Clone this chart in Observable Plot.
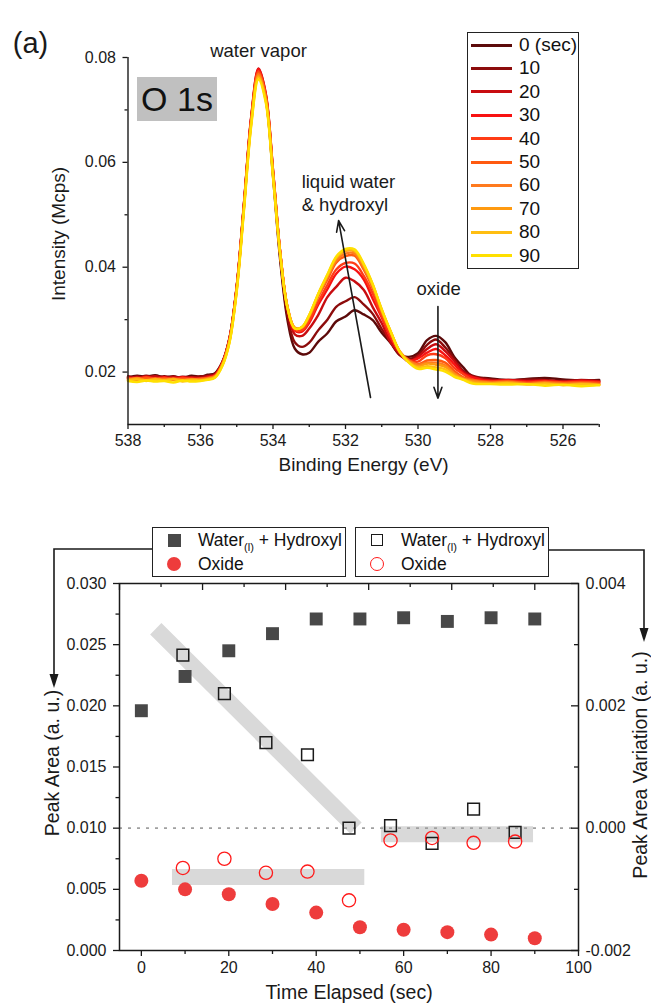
<!DOCTYPE html>
<html><head><meta charset="utf-8">
<script src="https://cdn.jsdelivr.net/npm/d3@7"></script>
<script src="https://cdn.jsdelivr.net/npm/@observablehq/plot@0.6"></script>
<style>
body{margin:0;background:#fff;font-family:"Liberation Sans",Arial,sans-serif;color:#111}
#wrap{position:relative;width:651px;height:1008px;overflow:hidden;background:#fff}
#top,#bot{position:absolute;left:0}
#top{top:0}
#bot{top:490px}
.box{position:absolute;border:1.3px solid #222;background:#fff;box-sizing:border-box}
.row{position:absolute;white-space:nowrap}
#o1s{position:absolute;left:137px;top:77px;width:80px;height:44px;background:#c0c0c0;font-size:34px;line-height:44px;text-align:center;color:#111}
sub{font-size:11px;vertical-align:-5px}
#ov{position:absolute;left:0;top:0;pointer-events:none}
</style></head><body>
<div id="wrap">
<div id="top"></div>
<div id="bot"></div>
<div id="o1s">O 1s</div>
<div id="leg1" class="box" style="left:467px;top:32px;width:112px;height:237px"></div>
<div id="leg2" class="box" style="left:152px;top:527px;width:194px;height:50px"></div>
<div id="leg3" class="box" style="left:355px;top:527px;width:194px;height:50px"></div>
<svg id="ov" width="651" height="1008"></svg>
</div>
<script>
// ---------- Top panel data (O 1s spectra) ----------
const energy = [538.0,537.75,537.5,537.25,537.0,536.75,536.5,536.25,536.0,
  535.8,535.6,535.4,535.2,535.0,534.8,534.6,534.4,534.2,534.0,533.8,533.6,533.4,533.2,533.0,
  532.75,532.5,532.25,532.0,531.75,531.5,531.25,531.0,530.75,530.5,530.25,530.0,529.75,529.5,529.25,529.0,528.75,528.5,
  528.0,527.5,527.0,526.5,526.0,525.5,525.0];
const times = [0,10,20,30,40,50,60,70,80,90];
const s0 = [0.0190,0.0193,0.0191,0.0194,0.0190,0.0192,0.0189,0.0193,0.0191,0.0195,0.0198,0.0219,0.0265,0.0363,0.0518,0.0681,0.0769,0.0721,0.0573,0.0412,0.0299,0.0245,0.0234,0.0237,0.0258,0.0274,0.0297,0.0306,0.0318,0.0310,0.0299,0.0275,0.0255,0.0233,0.0229,0.0236,0.0261,0.0269,0.0257,0.0229,0.0209,0.0192,0.0188,0.0185,0.0187,0.0189,0.0186,0.0184,0.0185];
const s1 = [0.0192,0.0189,0.0193,0.0190,0.0192,0.0189,0.0191,0.0190,0.0192,0.0193,0.0197,0.0218,0.0265,0.0364,0.0522,0.0685,0.0773,0.0726,0.0578,0.0418,0.0307,0.0257,0.0248,0.0256,0.0280,0.0300,0.0325,0.0335,0.0343,0.0329,0.0311,0.0282,0.0257,0.0232,0.0225,0.0232,0.0252,0.0262,0.0247,0.0225,0.0202,0.0193,0.0186,0.0184,0.0186,0.0185,0.0183,0.0185,0.0183];
const s2 = [0.0188,0.0191,0.0189,0.0192,0.0188,0.0191,0.0188,0.0190,0.0189,0.0192,0.0195,0.0218,0.0264,0.0365,0.0523,0.0688,0.0779,0.0732,0.0586,0.0427,0.0319,0.0272,0.0269,0.0283,0.0309,0.0343,0.0363,0.0380,0.0373,0.0357,0.0324,0.0293,0.0256,0.0235,0.0220,0.0229,0.0244,0.0253,0.0240,0.0221,0.0200,0.0191,0.0184,0.0185,0.0183,0.0184,0.0182,0.0184,0.0182];
const s3 = [0.0190,0.0187,0.0191,0.0188,0.0190,0.0187,0.0190,0.0188,0.0187,0.0190,0.0194,0.0217,0.0263,0.0363,0.0521,0.0686,0.0778,0.0730,0.0585,0.0428,0.0322,0.0279,0.0277,0.0294,0.0329,0.0358,0.0388,0.0401,0.0396,0.0377,0.0340,0.0304,0.0264,0.0238,0.0222,0.0226,0.0237,0.0244,0.0232,0.0215,0.0197,0.0190,0.0183,0.0184,0.0182,0.0183,0.0181,0.0183,0.0181];
const s4 = [0.0189,0.0186,0.0190,0.0187,0.0189,0.0186,0.0189,0.0187,0.0188,0.0189,0.0193,0.0216,0.0263,0.0362,0.0520,0.0684,0.0774,0.0728,0.0584,0.0428,0.0323,0.0281,0.0280,0.0298,0.0334,0.0366,0.0396,0.0408,0.0407,0.0384,0.0350,0.0307,0.0269,0.0237,0.0222,0.0220,0.0232,0.0234,0.0227,0.0208,0.0196,0.0186,0.0182,0.0183,0.0180,0.0182,0.0180,0.0181,0.0180];
const s5 = [0.0188,0.0185,0.0189,0.0186,0.0188,0.0185,0.0187,0.0186,0.0187,0.0189,0.0192,0.0215,0.0261,0.0361,0.0518,0.0681,0.0771,0.0726,0.0582,0.0428,0.0325,0.0284,0.0284,0.0305,0.0344,0.0376,0.0409,0.0421,0.0422,0.0396,0.0360,0.0314,0.0274,0.0239,0.0223,0.0215,0.0222,0.0223,0.0218,0.0202,0.0190,0.0185,0.0181,0.0182,0.0179,0.0181,0.0179,0.0180,0.0178];
const s6 = [0.0186,0.0189,0.0185,0.0188,0.0186,0.0188,0.0185,0.0187,0.0186,0.0188,0.0192,0.0214,0.0260,0.0359,0.0516,0.0678,0.0768,0.0723,0.0580,0.0426,0.0324,0.0284,0.0285,0.0306,0.0346,0.0380,0.0413,0.0426,0.0426,0.0399,0.0363,0.0316,0.0276,0.0239,0.0221,0.0214,0.0218,0.0218,0.0213,0.0198,0.0188,0.0184,0.0180,0.0181,0.0178,0.0180,0.0178,0.0179,0.0177];
const s7 = [0.0185,0.0188,0.0184,0.0187,0.0185,0.0187,0.0184,0.0186,0.0185,0.0187,0.0191,0.0213,0.0259,0.0358,0.0514,0.0676,0.0765,0.0720,0.0578,0.0426,0.0324,0.0285,0.0286,0.0308,0.0349,0.0384,0.0417,0.0431,0.0430,0.0404,0.0367,0.0318,0.0277,0.0238,0.0220,0.0211,0.0216,0.0214,0.0210,0.0196,0.0187,0.0182,0.0179,0.0180,0.0177,0.0179,0.0176,0.0178,0.0176];
const s8 = [0.0184,0.0186,0.0183,0.0186,0.0184,0.0186,0.0182,0.0185,0.0184,0.0186,0.0190,0.0212,0.0257,0.0356,0.0512,0.0673,0.0762,0.0717,0.0575,0.0424,0.0323,0.0283,0.0286,0.0309,0.0349,0.0385,0.0419,0.0433,0.0432,0.0405,0.0366,0.0320,0.0276,0.0239,0.0218,0.0209,0.0211,0.0209,0.0205,0.0193,0.0186,0.0180,0.0178,0.0179,0.0176,0.0178,0.0175,0.0177,0.0175];
const s9 = [0.0183,0.0181,0.0184,0.0182,0.0183,0.0180,0.0184,0.0182,0.0183,0.0185,0.0189,0.0211,0.0256,0.0354,0.0509,0.0670,0.0758,0.0714,0.0572,0.0423,0.0322,0.0283,0.0286,0.0309,0.0350,0.0386,0.0421,0.0435,0.0434,0.0407,0.0368,0.0319,0.0277,0.0238,0.0218,0.0206,0.0208,0.0205,0.0201,0.0191,0.0185,0.0178,0.0177,0.0176,0.0177,0.0174,0.0176,0.0173,0.0175];
const lineColors = ["#5c0a0a","#8c0c0c","#c80c10","#f81212","#ff3c16","#ff5a10","#ff7a1e","#ff9a10","#ffbe12","#ffe000"];
const legendLabels = ["0 (sec)","10","20","30","40","50","60","70","80","90"];
const xMajorTop = [538,536,534,532,530,528,526];
const xMinorTop = [537,535,533,531,529,527,525];
const yMajorTop = [0.02,0.04,0.06,0.08];
const yMinorTop = [0.03,0.05,0.07];
const centeredNotes = [
  {x:534.4, y:0.0813, text:"water vapor"},
  {x:529.43, y:0.03575, text:"oxide"}
];
const leftNotes = [
  {x:533.21, y:0.0562, text:"liquid water"},
  {x:533.21, y:0.0518, text:"& hydroxyl"}
];
const topArrows = [
  {x1:531.31, y1:0.01515, x2:532.19, y2:0.0489},
  {x1:529.45, y1:0.0325, x2:529.45, y2:0.0150}
];

// ---------- Bottom panel data ----------
const tSec = [0,10,20,30,40,50,60,70,80,90];
const waterArea = [0.0196,0.0224,0.0245,0.0259,0.0271,0.0271,0.0272,0.0269,0.0272,0.0271];
const oxideArea = [0.0057,0.0050,0.0046,0.0038,0.0031,0.0019,0.0017,0.0015,0.0013,0.0010];
const tMid = [9.5,19,28.5,38,47.5,57,66.5,76,85.5];
const waterVar = [0.00283,0.0022,0.0014,0.0012,0.0000,0.00004,-0.00025,0.00031,-0.00007];
const oxideVar = [-0.00065,-0.0005,-0.00073,-0.00071,-0.00118,-0.0002,-0.00016,-0.00024,-0.00022];
const bandX = [[3.3,49.1],[7,51],[54.8,89.6]];
const bandV = [[0.00326,0.0],[-0.0008,-0.0008],[-0.0001,-0.0001]];
const xMajorBot = [0,20,40,60,80,100];
const xMinorBot = [10,30,50,70,90];
const yMajorBot = [0,0.005,0.010,0.015,0.020,0.025,0.030];
const yMinorBot = [0.0025,0.0075,0.0125,0.0175,0.0225,0.0275];
const rightTicks = [-0.002,0,0.002,0.004];
const rightMinor = [-0.001,0.001,0.003];
const topMajorBot = [-5,14,33,52,71,90];
const topMinorBot = [4.5,23.5,42.5,61.5,80.5];

const FONT = '"Liberation Sans", Arial, sans-serif';
const INK = "#1a1a1a";

// ---------- Top chart ----------
const spectra = [s0,s1,s2,s3,s4,s5,s6,s7,s8,s9];
const specData = times.flatMap((t,i)=>energy.map((e,j)=>({t, e, v: spectra[i][j]})));

const topChart = Plot.plot({
  width:651, height:490,
  marginLeft:127.5, marginRight:52.25, marginTop:57, marginBottom:66,
  style:{fontFamily:FONT, fontSize:"16px", color:INK, background:"transparent", overflow:"visible"},
  x:{domain:[538,525]},
  y:{domain:[0.01,0.08]},
  color:{type:"ordinal", domain:times, range:lineColors},
  marks:[
    Plot.line(specData,{x:"e", y:"v", z:"t", stroke:"t", strokeWidth:2.4, curve:"catmull-rom"}),
    Plot.ruleX([538],{stroke:INK, strokeWidth:1.4}),
    Plot.ruleY([0.01],{stroke:INK, strokeWidth:1.4}),
    Plot.axisX({ticks:xMajorTop, tickFormat:d=>String(d), tickSize:5, tickPadding:5, label:null, strokeWidth:1.3}),
    Plot.axisX({ticks:xMinorTop, tickFormat:()=>"", tickSize:3, label:null, strokeWidth:1.3}),
    Plot.axisY({ticks:yMajorTop, tickFormat:d=>d.toFixed(2), tickSize:5, tickPadding:7, label:null, strokeWidth:1.3}),
    Plot.axisY({ticks:yMinorTop, tickFormat:()=>"", tickSize:3, label:null, strokeWidth:1.3}),
    Plot.text(centeredNotes,{x:"x", y:"y", text:"text", textAnchor:"middle", fontSize:18.5, fill:INK}),
    Plot.text(leftNotes,{x:"x", y:"y", text:"text", textAnchor:"start", fontSize:18.5, fill:INK}),
    Plot.arrow(topArrows,{x1:"x1", y1:"y1", x2:"x2", y2:"y2", stroke:INK, strokeWidth:1.6, headLength:11, headAngle:40}),
    Plot.text(["Intensity (Mcps)"],{text:d=>d, frameAnchor:"left", textAnchor:"middle", dx:-69, dy:-7, rotate:-90, fontSize:19, fill:INK}),
    Plot.text(["Binding Energy (eV)"],{text:d=>d, frameAnchor:"bottom", textAnchor:"middle", dy:46, fontSize:19, fill:INK}),
    Plot.text(["(a)"],{text:d=>d, frameAnchor:"top-left", textAnchor:"middle", dx:-97.5, dy:-25, fontSize:29, fill:INK})
  ]
});
document.getElementById("top").appendChild(topChart);

// ---------- Bottom chart ----------
const toLeft = v => 0.010 + 5*v;
const areaRows = tSec.map((t,i)=>({t, w:waterArea[i], o:oxideArea[i]}));
const varRows = tMid.map((t,i)=>({t, w:toLeft(waterVar[i]), o:toLeft(oxideVar[i])}));
const bandRows = bandX.flatMap((xs,k)=>xs.map((x,j)=>({k, x, y:toLeft(bandV[k][j])})));
const FW = 651-119-73, FH = 518-93-58;

const botChart = Plot.plot({
  width:651, height:518,
  marginLeft:119, marginRight:73, marginTop:93, marginBottom:58,
  style:{fontFamily:FONT, fontSize:"16px", color:INK, background:"transparent", overflow:"visible"},
  x:{domain:[-5,100]},
  y:{domain:[0,0.030]},
  marks:[
    Plot.line(bandRows,{x:"x", y:"y", z:"k", stroke:"#d9d9d9", strokeWidth:16, strokeLinecap:"butt"}),
    Plot.ruleY([toLeft(0)],{stroke:"#a0a0a0", strokeWidth:1.6, strokeDasharray:"3,6"}),
    Plot.dot(areaRows,{x:"t", y:"w", symbol:"square", r:7.3, fill:"#484848"}),
    Plot.dot(areaRows,{x:"t", y:"o", symbol:"circle", r:7, fill:"#ee3c3c"}),
    Plot.dot(varRows,{x:"t", y:"w", symbol:"square", r:6.6, fill:"none", stroke:"#1a1a1a", strokeWidth:1.5}),
    Plot.dot(varRows,{x:"t", y:"o", symbol:"circle", r:6.6, fill:"none", stroke:"#ff1a1a", strokeWidth:1.3}),
    Plot.frame({stroke:INK, strokeWidth:1.5}),
    Plot.axisX({ticks:xMajorBot, tickFormat:d=>String(d), tickSize:6, tickPadding:5, label:null, strokeWidth:1.3}),
    Plot.axisX({ticks:xMinorBot, tickFormat:()=>"", tickSize:4, label:null, strokeWidth:1.3}),
    Plot.axisY({ticks:yMajorBot, tickFormat:d=>d.toFixed(3), tickSize:6, tickPadding:7, label:null, strokeWidth:1.3}),
    Plot.axisY({ticks:yMinorBot, tickFormat:()=>"", tickSize:3.5, label:null, strokeWidth:1.3}),
    Plot.axisY({anchor:"right", ticks:rightTicks.map(toLeft), tickFormat:d=>((d-0.010)/5).toFixed(3), tickSize:0, tickPadding:7, label:null}),
    Plot.tickY(rightTicks.map(toLeft),{y:d=>d, insetLeft:FW-7, stroke:INK, strokeWidth:1.3}),
    Plot.tickY(rightMinor.map(toLeft),{y:d=>d, insetLeft:FW-4, stroke:INK, strokeWidth:1.3}),
    Plot.tickX(topMajorBot,{x:d=>d, insetBottom:FH-7, stroke:INK, strokeWidth:1.3}),
    Plot.tickX(topMinorBot,{x:d=>d, insetBottom:FH-4, stroke:INK, strokeWidth:1.3}),
    Plot.text(["Peak Area (a. u.)"],{text:d=>d, frameAnchor:"left", textAnchor:"middle", dx:-67, dy:-4, rotate:-90, fontSize:19.5, fill:INK}),
    Plot.text(["Peak Area Variation (a. u.)"],{text:d=>d, frameAnchor:"right", textAnchor:"middle", dx:62, dy:-2, rotate:-90, fontSize:19.5, fill:INK}),
    Plot.text(["Time Elapsed (sec)"],{text:d=>d, frameAnchor:"bottom", textAnchor:"middle", dy:48, fontSize:19.5, fill:INK})
  ]
});
document.getElementById("bot").appendChild(botChart);

// ---------- Legends ----------
const leg1 = document.getElementById("leg1");
legendLabels.forEach((lab,i)=>{
  const cy = 12 + 23.4*i;
  const sw = document.createElement("div");
  sw.style.cssText = `position:absolute;left:3px;top:${cy-1.5}px;width:41px;height:3.2px;background:${lineColors[i]}`;
  leg1.appendChild(sw);
  const tx = document.createElement("div");
  tx.className = "row";
  tx.style.cssText += `left:51px;top:${cy-11}px;font-size:19px;line-height:22px`;
  tx.textContent = lab;
  leg1.appendChild(tx);
});
function fillLeg(el, sq, ci){
  el.innerHTML = `
   <div style="position:absolute;left:${21-6.5}px;top:${12-6.5}px;width:13px;height:13px;${sq}"></div>
   <div class="row" style="left:45px;top:1px;font-size:17.5px;line-height:22px">Water<sub>(l)</sub> + Hydroxyl</div>
   <div style="position:absolute;left:${21-7}px;top:${36-7}px;width:14px;height:14px;border-radius:50%;box-sizing:border-box;${ci}"></div>
   <div class="row" style="left:45px;top:25px;font-size:17.5px;line-height:22px">Oxide</div>`;
}
fillLeg(document.getElementById("leg2"), "background:#484848", "background:#ee3c3c");
fillLeg(document.getElementById("leg3"), "border:1.5px solid #1a1a1a;box-sizing:border-box;width:12px;height:12px;left:15px", "border:1.3px solid #ff1a1a");

// ---------- Bracket arrows ----------
document.getElementById("ov").innerHTML = `
  <path d="M152,549 H54 V676" fill="none" stroke="#1a1a1a" stroke-width="1.6"/>
  <path d="M49.5,674 L58.5,674 L54,688 Z" fill="#1a1a1a"/>
  <path d="M549,550 H644 V630" fill="none" stroke="#1a1a1a" stroke-width="1.6"/>
  <path d="M639.5,628 L648.5,628 L644,642 Z" fill="#1a1a1a"/>`;
</script>
</body></html>
